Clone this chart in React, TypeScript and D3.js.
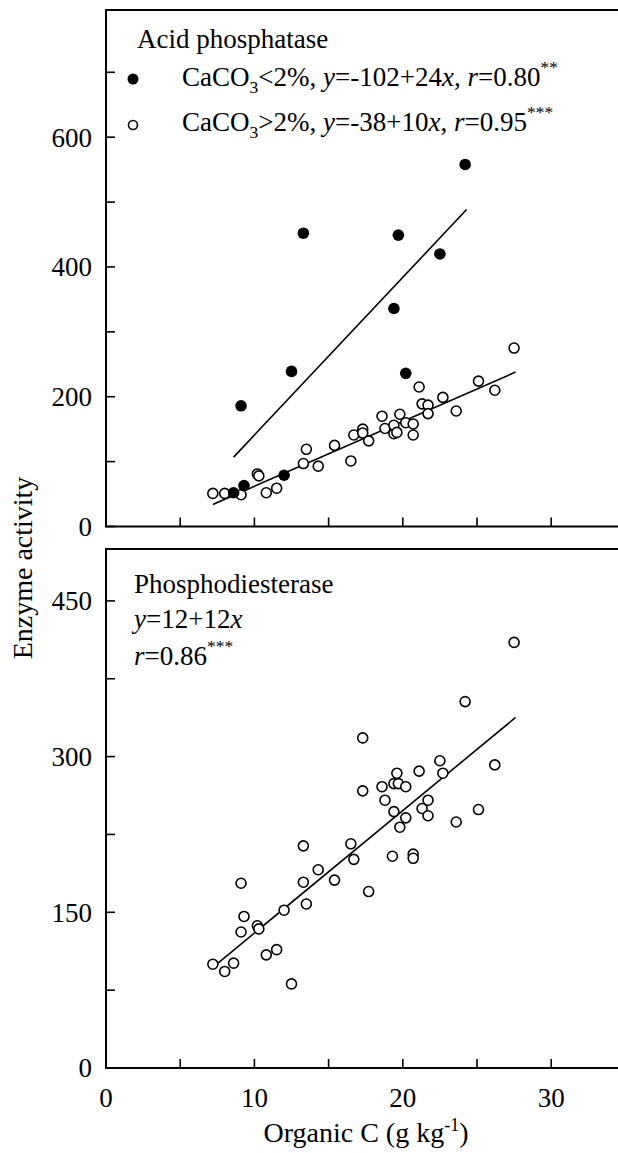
import React from "react";
import * as d3 from "d3";

// ---------- data ----------
const xTicksMajor = [0, 10, 20, 30];
const xTicksAll = [0, 5, 10, 15, 20, 25, 30, 35];
const topYTickLabels = [0, 200, 400, 600];
const topYTicksAll = [0, 100, 200, 300, 400, 500, 600, 700];
const botYTickLabels = [0, 150, 300, 450];
const botYTicksAll = [0, 75, 150, 225, 300, 375, 450];

// Acid phosphatase, CaCO3 < 2% (filled)
const lowX = [13.3, 19.7, 22.5, 24.2, 19.4, 9.1, 12.5, 20.2, 12.0, 9.3, 8.6];
const lowY = [452, 449, 420, 558, 336, 186, 239, 236, 79, 63, 52];

// Acid phosphatase, CaCO3 > 2% (open)
const highX = [7.2, 8.0, 9.1, 10.2, 10.3, 10.8, 11.5, 13.3, 13.5, 14.3, 15.4, 16.5, 16.7, 17.3, 17.3, 17.7, 18.6, 18.8, 19.4, 19.4, 19.6, 19.8, 20.2, 20.7, 20.7, 21.1, 21.3, 21.7, 21.7, 22.7, 23.6, 25.1, 26.2, 27.5];
const highY = [51, 51, 49, 81, 78, 52, 59, 97, 119, 93, 125, 101, 141, 150, 144, 132, 170, 151, 143, 156, 145, 173, 160, 158, 141, 215, 189, 187, 174, 199, 178, 224, 210, 275];

// Phosphodiesterase (all samples)
const pdX = [27.5, 24.2, 17.3, 22.5, 26.2, 21.1, 22.7, 19.6, 19.4, 19.7, 20.2, 18.6, 17.3, 18.8, 21.7, 21.3, 25.1, 19.4, 21.7, 20.2, 23.6, 19.8, 16.5, 13.3, 16.7, 19.3, 20.7, 20.7, 14.3, 13.3, 15.4, 9.1, 17.7, 13.5, 12.0, 9.3, 10.2, 10.3, 9.1, 11.5, 10.8, 7.2, 8.6, 8.0, 12.5];
const pdY = [410, 353, 318, 296, 292, 286, 284, 284, 274, 274, 271, 271, 267, 258, 258, 250, 249, 247, 243, 241, 237, 232, 216, 214, 201, 204, 206, 202, 191, 179, 181, 178, 170, 158, 152, 146, 137, 134, 131, 114, 109, 100, 101, 93, 81];

// regression lines: [intercept, slope, xStart, xEnd]
const fitLow = [-102, 24.3, 8.6, 24.3];
const fitHigh = [-38, 10, 7.2, 27.6];
const fitPd = [12, 11.8, 7.2, 27.6];

// ---------- layout ----------
const W = 618;
const H = 1153;
const FONT = "Liberation Serif, Tinos, Times New Roman, Times, DejaVu Serif, serif";
const FS = 27;

const x = d3.scaleLinear().domain([0, 35]).range([106, 625.4]);
const yTop = d3.scaleLinear().domain([0, 796]).range([526.5, 10]);
const yBot = d3.scaleLinear().domain([0, 500]).range([1068, 549]);

function fitPath(fit: number[], y: d3.ScaleLinear<number, number>) {
  const [a, b, x0, x1] = fit;
  const line = d3
    .line<number>()
    .x((d) => x(d))
    .y((d) => y(a + b * d));
  return line([x0, x1]) || "";
}

function Panel({
  y,
  yTicksAll,
  yTickLabels,
}: {
  y: d3.ScaleLinear<number, number>;
  yTicksAll: number[];
  yTickLabels: number[];
}) {
  const [y0, y1] = y.range();
  const xl = x.range()[0];
  const xr = x.range()[1];
  const tl = 9;
  return (
    <g>
      <path
        d={`M${xr},${y1}H${xl}V${y0}H${xr}`}
        fill="none"
        stroke="#000"
        strokeWidth={2}
      />
      {xTicksAll.map((t) => (
        <line key={"xt" + t} x1={x(t)} x2={x(t)} y1={y0} y2={y0 - tl} stroke="#000" strokeWidth={1.6} />
      ))}
      {yTicksAll.map((t) => (
        <line key={"yt" + t} x1={xl} x2={xl + tl} y1={y(t)} y2={y(t)} stroke="#000" strokeWidth={1.6} />
      ))}
      {yTickLabels.map((t) => (
        <text
          key={"yl" + t}
          x={92}
          y={y(t)}
          dy="0.35em"
          textAnchor="end"
          fontSize={FS}
          fontFamily={FONT}
        >
          {t}
        </text>
      ))}
    </g>
  );
}

export default function App() {
  return (
    <svg
      width={W}
      height={H}
      viewBox={`0 0 ${W} ${H}`}
      style={{ position: "absolute", left: 0, top: 0, background: "#fff" }}
    >
      <rect x={0} y={0} width={W} height={H} fill="#fff" />
      <Panel y={yTop} yTicksAll={topYTicksAll} yTickLabels={topYTickLabels} />
      <Panel y={yBot} yTicksAll={botYTicksAll} yTickLabels={botYTickLabels} />

      <path d={fitPath(fitLow, yTop)} stroke="#000" strokeWidth={1.6} fill="none" />
      <path d={fitPath(fitHigh, yTop)} stroke="#000" strokeWidth={1.6} fill="none" />

      {highX.map((v, i) => (
        <circle key={"h" + i} cx={x(v)} cy={yTop(highY[i])} r={5} fill="#fff" stroke="#000" strokeWidth={1.6} />
      ))}
      {lowX.map((v, i) => (
        <circle key={"l" + i} cx={x(v)} cy={yTop(lowY[i])} r={5.8} fill="#000" />
      ))}

      <g fontFamily={FONT} fontSize={FS}>
        <text x={137} y={48}>Acid phosphatase</text>
        <circle cx={133} cy={79} r={5.5} fill="#000" />
        <text x={182} y={86}>
          CaCO<tspan fontSize={FS * 0.65} dy={7}>3</tspan>
          <tspan dy={-7}>&lt;2%, </tspan>
          <tspan fontStyle="italic">y</tspan>=-102+24<tspan fontStyle="italic">x</tspan>,{" "}
          <tspan fontStyle="italic">r</tspan>=0.80
          <tspan fontSize={FS * 0.65} dy={-13}>**</tspan>
        </text>
        <circle cx={133} cy={125} r={4.5} fill="#fff" stroke="#000" strokeWidth={1.6} />
        <text x={182} y={131}>
          CaCO<tspan fontSize={FS * 0.65} dy={7}>3</tspan>
          <tspan dy={-7}>&gt;2%, </tspan>
          <tspan fontStyle="italic">y</tspan>=-38+10<tspan fontStyle="italic">x</tspan>,{" "}
          <tspan fontStyle="italic">r</tspan>=0.95
          <tspan fontSize={FS * 0.65} dy={-13}>***</tspan>
        </text>
      </g>

      <path d={fitPath(fitPd, yBot)} stroke="#000" strokeWidth={1.6} fill="none" />
      {pdX.map((v, i) => (
        <circle key={"p" + i} cx={x(v)} cy={yBot(pdY[i])} r={5} fill="#fff" stroke="#000" strokeWidth={1.6} />
      ))}
      <g fontFamily={FONT} fontSize={FS}>
        <text x={134} y={593}>Phosphodiesterase</text>
        <text x={134} y={628}>
          <tspan fontStyle="italic">y</tspan>=12+12<tspan fontStyle="italic">x</tspan>
        </text>
        <text x={134} y={665}>
          <tspan fontStyle="italic">r</tspan>=0.86
          <tspan fontSize={FS * 0.65} dy={-13}>***</tspan>
        </text>
      </g>

      {xTicksMajor.map((t) => (
        <text key={"xl" + t} x={x(t)} y={1107} textAnchor="middle" fontSize={FS} fontFamily={FONT}>
          {t}
        </text>
      ))}
      <text x={366} y={1142} textAnchor="middle" fontSize={28} fontFamily={FONT}>
        Organic C (g kg<tspan fontSize={18} dy={-11}>-1</tspan>
        <tspan dy={11}>)</tspan>
      </text>
      <text
        transform="translate(32,568) rotate(-90)"
        textAnchor="middle"
        fontSize={28}
        fontFamily={FONT}
      >
        Enzyme activity
      </text>
    </svg>
  );
}
